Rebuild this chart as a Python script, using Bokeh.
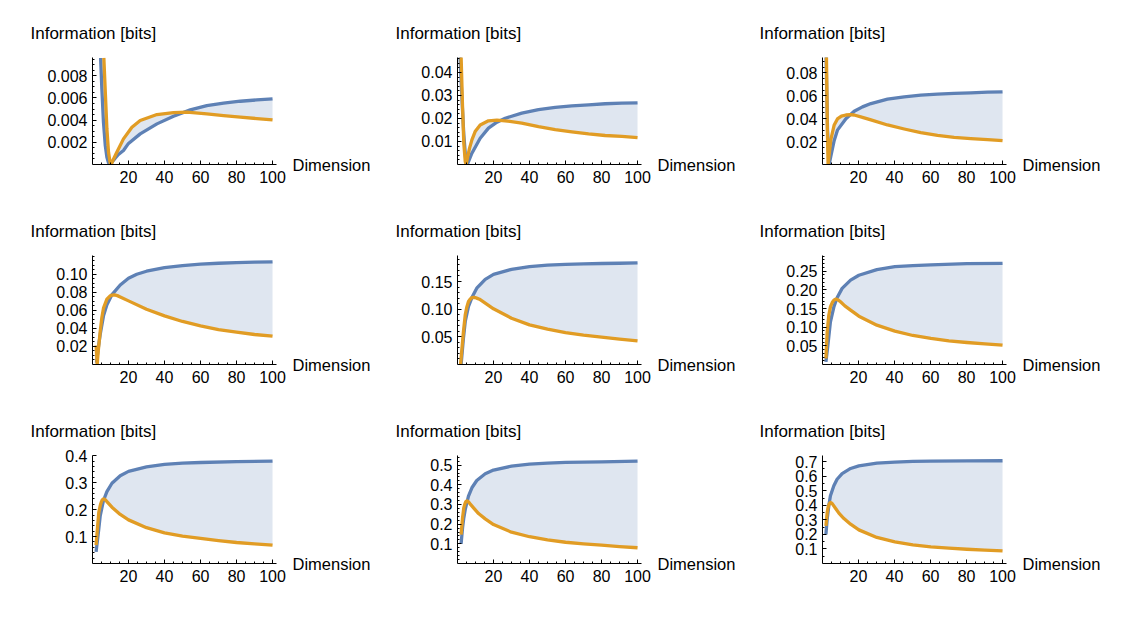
from bokeh.plotting import figure
from bokeh.layouts import column, row
from bokeh.models import Range1d, FixedTicker, LinearAxis
from bokeh.embed import file_html
from bokeh.resources import INLINE
import numpy as np

# ---------------- data ----------------
X_TICK_LABELS = ["20", "40", "60", "80", "100"]
X_AXIS_TITLE = "Dimension"
Y_AXIS_TITLE = "Information [bits]"

# panel 1
P1_BLUE_X = [4.5, 5.2, 6.1, 7.1, 8.0, 8.9, 9.6, 10.8, 12.6, 14.4, 17.2, 20.0, 26.5, 35.8, 45.0, 54.3, 63.5, 72.8, 82.1, 91.3, 100]
P1_BLUE_Y = [0.0096, 0.0068, 0.0038, 0.0017, 0.00066, 0.00015, 0.0, 0.0002, 0.00057, 0.0009, 0.00126, 0.0019, 0.00276, 0.00366, 0.00435, 0.00492, 0.00531, 0.00552, 0.0057, 0.00582, 0.00591]
P1_ORANGE_X = [6.3, 7.2, 8.0, 8.9, 9.8, 10.4, 11.7, 13.5, 17.2, 21.9, 26.5, 35.8, 45.0, 52.5, 63.5, 72.8, 82.1, 91.3, 100]
P1_ORANGE_Y = [0.0096, 0.0062, 0.0032, 0.0011, 0.00015, 0.0, 0.0005, 0.0011, 0.00231, 0.00336, 0.00396, 0.0045, 0.00468, 0.00471, 0.00456, 0.00441, 0.00426, 0.00414, 0.00402]
P1_YTICKS = ["0.002", "0.004", "0.006", "0.008"]
P1_YMINOR = 0.0005
P1_YMAX = 0.00964

# panel 2
P2_BLUE_X = [1.4, 2.5, 3.5, 4.5, 5.4, 6.5, 8.0, 12.6, 17.2, 21.9, 26.5, 35.7, 45.0, 54.3, 63.5, 72.8, 82.0, 91.3, 100]
P2_BLUE_Y = [0.047, 0.028, 0.013, 0.003, 0.0, 0.002, 0.0049, 0.0114, 0.0158, 0.0184, 0.0201, 0.0223, 0.0238, 0.0248, 0.0255, 0.0259, 0.0264, 0.0267, 0.0268]
P2_ORANGE_X = [2.0, 2.8, 3.5, 4.3, 4.8, 5.7, 6.7, 8.0, 9.8, 12.6, 17.2, 21.9, 26.5, 35.7, 45.0, 54.3, 63.5, 72.8, 82.0, 91.3, 100]
P2_ORANGE_Y = [0.047, 0.0252, 0.0093, 0.0013, 0.0, 0.0035, 0.0071, 0.0107, 0.0143, 0.0172, 0.019, 0.0193, 0.019, 0.018, 0.0165, 0.0152, 0.0142, 0.0133, 0.0126, 0.0122, 0.0117]
P2_YTICKS = ["0.01", "0.02", "0.03", "0.04"]
P2_YMINOR = 0.002
P2_YMAX = 0.0465

# panel 3
P3_BLUE_X = [2.0, 2.8, 3.7, 4.6, 6.5, 8.3, 13.0, 17.6, 22.2, 26.9, 36.1, 45.4, 54.6, 63.9, 73.1, 82.4, 91.7, 100]
P3_BLUE_Y = [0.094, 0.03, 0.0, 0.007, 0.021, 0.030, 0.040, 0.0465, 0.0503, 0.0532, 0.057, 0.0591, 0.0605, 0.0614, 0.062, 0.0626, 0.0631, 0.0634]
P3_ORANGE_X = [2.2, 2.7, 3.1, 4.6, 6.5, 8.3, 10.5, 13.0, 15.3, 17.6, 22.2, 26.9, 36.1, 45.4, 54.6, 63.9, 73.1, 82.4, 91.7, 100]
P3_ORANGE_Y = [0.094, 0.03, 0.0, 0.0214, 0.0345, 0.0398, 0.0422, 0.0432, 0.0435, 0.0432, 0.0412, 0.0389, 0.0345, 0.031, 0.0278, 0.0255, 0.0237, 0.0226, 0.0217, 0.0208]
P3_YTICKS = ["0.02", "0.04", "0.06", "0.08"]
P3_YMINOR = 0.005
P3_YMAX = 0.0934

# panel 4
P4_BLUE_X = [2.2, 3.2, 4.3, 6.1, 8.0, 10.7, 15.4, 20, 24.6, 30, 40, 50, 60, 70, 80, 90, 100]
P4_BLUE_Y = [0.002, 0.018, 0.0336, 0.0538, 0.066, 0.077, 0.088, 0.0955, 0.0999, 0.1032, 0.1073, 0.1095, 0.111, 0.112, 0.1128, 0.1132, 0.1136]
P4_ORANGE_X = [2.0, 2.6, 3.2, 4.3, 5.2, 6.1, 8.0, 9.8, 11.0, 12.2, 13.8, 15.4, 20, 30, 40, 50, 60, 70, 80, 90, 100]
P4_ORANGE_Y = [0.021, 0.0, 0.015, 0.037, 0.052, 0.0623, 0.0723, 0.076, 0.0768, 0.077, 0.0762, 0.0748, 0.0704, 0.0612, 0.0538, 0.0476, 0.0428, 0.0387, 0.0358, 0.0332, 0.0313]
P4_YTICKS = ["0.02", "0.04", "0.06", "0.08", "0.10"]
P4_YMINOR = 0.005
P4_YMAX = 0.1206

# panel 5
P5_BLUE_X = [2.0, 3.3, 4.3, 6.1, 8.0, 10.7, 15.4, 20, 30, 40, 50, 60, 70, 80, 90, 100]
P5_BLUE_Y = [0.0, 0.0476, 0.0777, 0.1048, 0.121, 0.138, 0.154, 0.163, 0.172, 0.177, 0.1795, 0.181, 0.182, 0.1825, 0.183, 0.1837]
P5_ORANGE_X = [1.7, 2.5, 3.3, 4.3, 5.2, 6.1, 7.0, 8.0, 9.0, 9.8, 11.0, 12.2, 15.4, 20, 30, 40, 50, 60, 70, 80, 90, 100]
P5_ORANGE_Y = [0.0, 0.03, 0.0596, 0.0898, 0.104, 0.1139, 0.118, 0.121, 0.1215, 0.121, 0.1195, 0.118, 0.111, 0.1006, 0.0837, 0.0717, 0.0639, 0.0578, 0.053, 0.0494, 0.0458, 0.0428]
P5_YTICKS = ["0.05", "0.10", "0.15"]
P5_YMINOR = 0.01
P5_YMAX = 0.197

# panel 6
P6_BLUE_X = [1.9, 3.0, 4.4, 6.3, 8.1, 10.9, 15.6, 20.2, 30.2, 40.2, 50.2, 60.2, 80.2, 100]
P6_BLUE_Y = [0.007, 0.052, 0.114, 0.154, 0.179, 0.204, 0.226, 0.239, 0.254, 0.262, 0.265, 0.267, 0.27, 0.271]
P6_ORANGE_X = [1.9, 2.6, 3.5, 4.4, 5.4, 6.3, 7.0, 7.8, 8.8, 10.0, 12.4, 15.6, 20.2, 30.2, 40.2, 50.2, 60.2, 70.2, 80.2, 90.2, 100]
P6_ORANGE_Y = [0.016, 0.0875, 0.132, 0.1545, 0.166, 0.172, 0.1745, 0.175, 0.1725, 0.168, 0.157, 0.1456, 0.1295, 0.1054, 0.0893, 0.0777, 0.0697, 0.0634, 0.0589, 0.0554, 0.0518]
P6_YTICKS = ["0.05", "0.10", "0.15", "0.20", "0.25"]
P6_YMINOR = 0.01
P6_YMAX = 0.292

# panel 7
P7_BLUE_X = [2.0, 3.4, 4.3, 6.1, 8.0, 10.8, 15.4, 20, 30, 40, 50, 60, 80, 100]
P7_BLUE_Y = [0.043, 0.123, 0.178, 0.234, 0.267, 0.298, 0.326, 0.342, 0.359, 0.368, 0.373, 0.375, 0.378, 0.38]
P7_ORANGE_X = [2.0, 2.8, 3.5, 4.3, 4.9, 5.4, 6.0, 6.5, 7.2, 8.0, 10.8, 15.4, 20, 30, 40, 50, 60, 70, 80, 90, 100]
P7_ORANGE_Y = [0.068, 0.135, 0.19, 0.215, 0.228, 0.236, 0.2395, 0.239, 0.236, 0.23, 0.209, 0.182, 0.162, 0.133, 0.114, 0.102, 0.093, 0.085, 0.078, 0.073, 0.068]
P7_YTICKS = ["0.1", "0.2", "0.3", "0.4"]
P7_YMINOR = 0.02
P7_YMAX = 0.401

# panel 8
P8_BLUE_X = [2.0, 2.8, 3.5, 4.3, 6.1, 8.0, 10.7, 15.4, 20, 30, 40, 50, 60, 80, 100]
P8_BLUE_Y = [0.1, 0.181, 0.232, 0.275, 0.342, 0.385, 0.422, 0.456, 0.475, 0.495, 0.505, 0.51, 0.514, 0.517, 0.52]
P8_ORANGE_X = [2.0, 2.8, 3.5, 4.1, 4.6, 5.1, 5.6, 6.3, 7.0, 8.9, 11.7, 15.4, 20, 30, 40, 50, 60, 70, 80, 90, 100]
P8_ORANGE_Y = [0.147, 0.232, 0.283, 0.303, 0.314, 0.318, 0.317, 0.311, 0.303, 0.283, 0.254, 0.227, 0.198, 0.159, 0.136, 0.12, 0.108, 0.1, 0.093, 0.086, 0.08]
P8_YTICKS = ["0.1", "0.2", "0.3", "0.4", "0.5"]
P8_YMINOR = 0.02
P8_YMAX = 0.549

# panel 9
P9_BLUE_X = [1.9, 2.6, 3.5, 4.4, 6.3, 8.1, 10.9, 15.6, 20.2, 30.2, 40.2, 50.2, 60.2, 80.2, 100]
P9_BLUE_Y = [0.2, 0.305, 0.396, 0.465, 0.534, 0.579, 0.618, 0.653, 0.671, 0.689, 0.696, 0.701, 0.703, 0.705, 0.706]
P9_ORANGE_X = [1.9, 2.6, 3.1, 3.5, 4.0, 4.4, 5.0, 5.6, 7.2, 9.1, 11.9, 15.6, 20.2, 30.2, 40.2, 50.2, 60.2, 70.2, 80.2, 90.2, 100]
P9_ORANGE_Y = [0.259, 0.35, 0.385, 0.403, 0.414, 0.419, 0.416, 0.408, 0.38, 0.346, 0.309, 0.27, 0.231, 0.179, 0.149, 0.128, 0.114, 0.105, 0.098, 0.092, 0.087]
P9_YTICKS = ["0.1", "0.2", "0.3", "0.4", "0.5", "0.6", "0.7"]
P9_YMINOR = 0.05
P9_YMAX = 0.742

PANELS = [
    (P1_BLUE_X, P1_BLUE_Y, P1_ORANGE_X, P1_ORANGE_Y, P1_YTICKS, P1_YMINOR, P1_YMAX),
    (P2_BLUE_X, P2_BLUE_Y, P2_ORANGE_X, P2_ORANGE_Y, P2_YTICKS, P2_YMINOR, P2_YMAX),
    (P3_BLUE_X, P3_BLUE_Y, P3_ORANGE_X, P3_ORANGE_Y, P3_YTICKS, P3_YMINOR, P3_YMAX),
    (P4_BLUE_X, P4_BLUE_Y, P4_ORANGE_X, P4_ORANGE_Y, P4_YTICKS, P4_YMINOR, P4_YMAX),
    (P5_BLUE_X, P5_BLUE_Y, P5_ORANGE_X, P5_ORANGE_Y, P5_YTICKS, P5_YMINOR, P5_YMAX),
    (P6_BLUE_X, P6_BLUE_Y, P6_ORANGE_X, P6_ORANGE_Y, P6_YTICKS, P6_YMINOR, P6_YMAX),
    (P7_BLUE_X, P7_BLUE_Y, P7_ORANGE_X, P7_ORANGE_Y, P7_YTICKS, P7_YMINOR, P7_YMAX),
    (P8_BLUE_X, P8_BLUE_Y, P8_ORANGE_X, P8_ORANGE_Y, P8_YTICKS, P8_YMINOR, P8_YMAX),
    (P9_BLUE_X, P9_BLUE_Y, P9_ORANGE_X, P9_ORANGE_Y, P9_YTICKS, P9_YMINOR, P9_YMAX),
]

# ---------------- styling / layout ----------------
BLUE = "#5E81B5"
ORANGE = "#E19C24"
FONT = "Liberation Sans"
X_END = 102.2
OFFSET = 8  # extra offset for first column
ROW_GEOM = [
    dict(top=57, frame=107, bottom=39),
    dict(top=52, frame=109, bottom=39),
    dict(top=52, frame=108, bottom=38),
]
TITLE_DX = [-62, -62, -63]


def make_panel(idx):
    bx, by, ox, oy, yticks, yminor, ymax = PANELS[idx]
    r, c = divmod(idx, 3)
    g = ROW_GEOM[r]
    left = 84 + (OFFSET if c == 0 else 0)
    p = figure(frame_width=184, frame_height=g["frame"],
               x_range=Range1d(0, X_END), y_range=Range1d(0, ymax),
               output_backend="svg", toolbar_location=None,
               min_border_left=left, min_border_right=97,
               min_border_top=g["top"], min_border_bottom=g["bottom"])
    p.outline_line_color = None
    p.xgrid.visible = False
    p.ygrid.visible = False
    p.background_fill_color = "white"
    p.border_fill_color = "white"

    # fill between curves
    p.patch(bx + ox[::-1], by + oy[::-1], fill_color=BLUE, fill_alpha=0.2, line_color=None)
    p.line(bx, by, line_color=BLUE, line_width=3.3, line_join="round")
    p.line(ox, oy, line_color=ORANGE, line_width=3.3, line_join="round")

    xt = [float(s) for s in X_TICK_LABELS]
    xminor = [v for v in np.arange(5, 101, 5).tolist() if v not in xt]
    xa = p.xaxis[0]
    xa.ticker = FixedTicker(ticks=xt, minor_ticks=xminor)
    xa.major_label_overrides = {float(s): s for s in X_TICK_LABELS}
    xa.major_label_standoff = 6

    yt = [float(s) for s in yticks]
    yminors = [round(v, 6) for v in np.arange(yminor, ymax, yminor).tolist()]
    yminors = [v for v in yminors if all(abs(v - t) > yminor / 10 for t in yt)]
    ya = p.yaxis[0]
    ya.ticker = FixedTicker(ticks=yt, minor_ticks=yminors)
    ya.major_label_overrides = {float(s): s for s in yticks}
    ya.major_label_standoff = 5

    for ax in (xa, ya):
        ax.major_tick_in = 4
        ax.major_tick_out = 0
        ax.minor_tick_in = 2
        ax.minor_tick_out = 0
        ax.axis_line_color = "black"
        ax.major_tick_line_color = "black"
        ax.minor_tick_line_color = "black"
        ax.major_label_text_font = FONT
        ax.major_label_text_font_size = "16px"
        ax.major_label_text_color = "black"

    # y-axis title placed above the axis, as the plot title
    p.title.text = Y_AXIS_TITLE
    p.title.align = "left"
    p.title.offset = TITLE_DX[c]
    p.title.standoff = 30
    p.title.text_font = FONT
    p.title.text_font_size = "17px"
    p.title.text_font_style = "normal"
    p.title.text_color = "black"

    # x-axis title at the right end of the x axis: the single tick label
    # of an otherwise invisible right-hand axis, with its tick at y = 0
    ra = LinearAxis(ticker=FixedTicker(ticks=[0.0], minor_ticks=[]),
                    major_label_overrides={0.0: X_AXIS_TITLE},
                    axis_line_color=None,
                    major_tick_line_color=None, minor_tick_line_color=None,
                    major_tick_in=0, major_tick_out=0,
                    major_label_standoff=16,
                    major_label_text_font=FONT, major_label_text_font_size="16.5px",
                    major_label_text_color="black")
    p.add_layout(ra, "right")
    return p


figs = [make_panel(i) for i in range(9)]
layout = column(row(*figs[0:3]), row(*figs[3:6]), row(*figs[6:9]))

open("out.html", "w").write(file_html(layout, INLINE))
